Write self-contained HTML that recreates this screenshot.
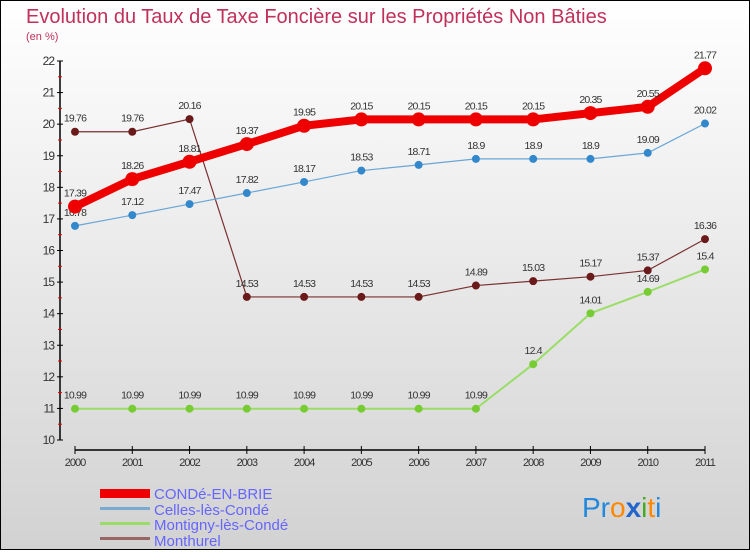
<!DOCTYPE html>
<html><head><meta charset="utf-8"><style>
body{margin:0}
svg text{font-family:"Liberation Sans","DejaVu Sans",sans-serif}
</style></head><body>
<svg width="750" height="550" xmlns="http://www.w3.org/2000/svg">
<defs><linearGradient id="bg" x1="0" y1="0" x2="0" y2="1"><stop offset="0" stop-color="#ffffff"/><stop offset="1" stop-color="#d2d2d2"/></linearGradient></defs>
<rect x="0.5" y="0.5" width="749" height="549" fill="url(#bg)" stroke="#000"/>
<text x="26" y="23" font-size="20" fill="#c0305a">Evolution du Taux de Taxe Foncière sur les Propriétés Non Bâties</text>
<text x="26" y="40" font-size="11" fill="#c0305a">(en %)</text>
<g id="axes"></g><g id="series"></g>
<g>
<rect x="100" y="489" width="50" height="9" fill="#ee0000"/>
<text x="154" y="499" font-size="15" fill="#6666ff">CONDé-EN-BRIE</text>
<rect x="100" y="507" width="50" height="3" fill="#7aaad0"/>
<text x="154" y="515" font-size="15" fill="#6666ff">Celles-lès-Condé</text>
<rect x="100" y="522" width="50" height="3" fill="#99dd66"/>
<text x="154" y="530" font-size="15" fill="#6666ff">Montigny-lès-Condé</text>
<rect x="100" y="537" width="50" height="3" fill="#996666"/>
<text x="154" y="546" font-size="15" fill="#6666ff">Monthurel</text>
</g>
<text x="582" y="517" font-size="28"><tspan fill="#2288dd">Pr</tspan><tspan fill="#ff8800">o</tspan><tspan fill="#2266cc" font-weight="bold">x</tspan><tspan fill="#44aa22">i</tspan><tspan fill="#ff8800">t</tspan><tspan fill="#2288dd">i</tspan></text>
</svg>
<script>
const years=[2000,2001,2002,2003,2004,2005,2006,2007,2008,2009,2010,2011];
const yTicks=[10,11,12,13,14,15,16,17,18,19,20,21,22];
const conde=[17.39,18.26,18.81,19.37,19.95,20.15,20.15,20.15,20.15,20.35,20.55,21.77];
const celles=[16.78,17.12,17.47,17.82,18.17,18.53,18.71,18.9,18.9,18.9,19.09,20.02];
const montigny=[10.99,10.99,10.99,10.99,10.99,10.99,10.99,10.99,12.4,14.01,14.69,15.4];
const monthurel=[19.76,19.76,20.16,14.53,14.53,14.53,14.53,14.89,15.03,15.17,15.37,16.36];
const NS='http://www.w3.org/2000/svg';
const X=i=>75+i*(630/11);
const Y=v=>440-(v-10)*(379/12);
function mk(t,a,p,txt){const e=document.createElementNS(NS,t);for(const k in a)e.setAttribute(k,a[k]);if(txt!==undefined)e.textContent=txt;p.appendChild(e);return e;}
const ax=document.getElementById('axes');
let e=mk('line',{x1:60,y1:Y(22),x2:60,y2:Y(10),stroke:'#000','stroke-width':1.5},ax);

yTicks.forEach(v=>{mk('line',{x1:57,x2:63,y1:Y(v),y2:Y(v),stroke:'#000'},ax);
if(v<22)mk('line',{x1:58,x2:62,y1:Y(v+0.5),y2:Y(v+0.5),stroke:'#e00'},ax);
const t=mk('text',{x:54,y:Y(v)+4,'font-size':12,'text-anchor':'end',fill:'#333','letter-spacing':'-1'},ax,v);
});
e=mk('line',{x1:X(0),y1:450,x2:X(11),y2:450,stroke:'#000','stroke-width':1.5},ax);

years.forEach((y,i)=>{mk('line',{x1:X(i),x2:X(i),y1:446,y2:454,stroke:'#000'},ax);
const t=mk('text',{x:X(i),y:466,'font-size':11,'text-anchor':'middle',fill:'#333','letter-spacing':'-1'},ax,y);
});
const sg=document.getElementById('series');
function series(name,vals,col,w,r,dot){
const g=mk('g',{},sg);
const l=mk('polyline',{points:vals.map((v,i)=>X(i)+','+Y(v)).join(' '),fill:'none',stroke:col,'stroke-width':w,'stroke-linejoin':'round'},g);

vals.forEach((v,i)=>{const c=mk('circle',{cx:X(i),cy:Y(v),r:r,fill:dot},g);

const t=mk('text',{x:X(i),y:Y(v)-10,'font-size':10.5,'text-anchor':'middle',fill:'#333','letter-spacing':'-0.8'},g,v);
});}
series('monthurel',monthurel,'#7a3030',1.2,4,'#6a1a1a');
series('montigny',montigny,'#99dd66',2,4,'#77cc33');
series('celles',celles,'#6aa6d6',1.2,4,'#3388cc');
series('conde',conde,'#ee0000',8,7,'#ee0000');
</script>
</body></html>
